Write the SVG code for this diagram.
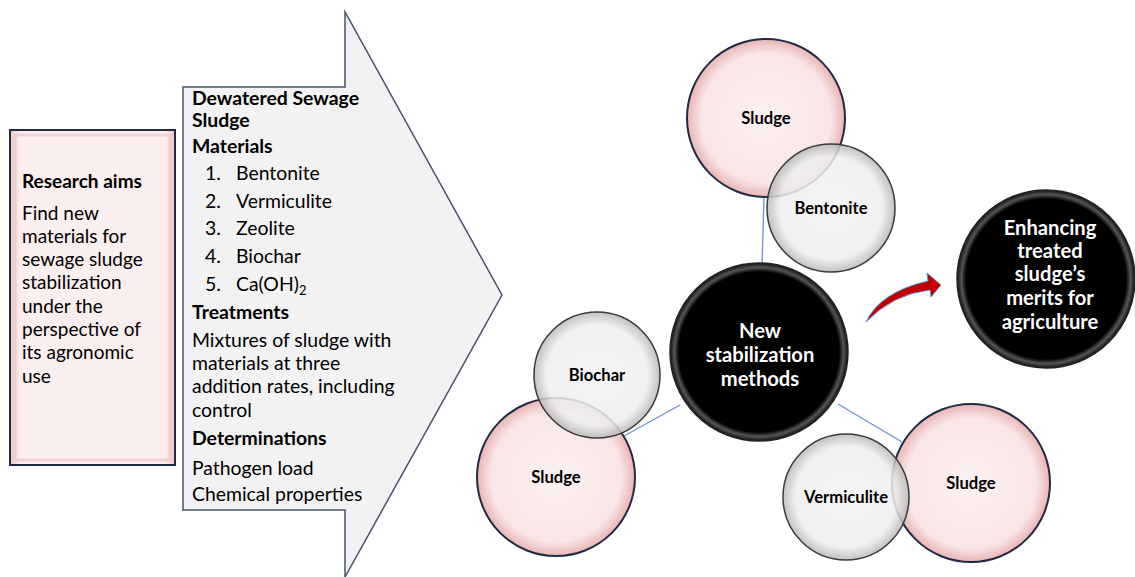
<svg xmlns="http://www.w3.org/2000/svg" width="1135" height="577" viewBox="0 0 1135 577">
<defs>
<radialGradient id="gPink" cx="50%" cy="50%" r="50%">
<stop offset="0" stop-color="#fcf1f1"/>
<stop offset="0.82" stop-color="#f9e6e6"/>
<stop offset="1" stop-color="#eab4b4"/>
</radialGradient>
<radialGradient id="gGray" cx="50%" cy="50%" r="50%">
<stop offset="0" stop-color="#f4f4f4"/>
<stop offset="0.8" stop-color="#eeeeee"/>
<stop offset="1" stop-color="#b8b8b8"/>
</radialGradient>
<radialGradient id="gBlack" cx="50%" cy="50%" r="50%">
<stop offset="0" stop-color="#000"/>
<stop offset="0.9" stop-color="#000"/>
<stop offset="0.95" stop-color="#555"/>
<stop offset="1" stop-color="#111"/>
</radialGradient>
<linearGradient id="gBox" x1="0" y1="0" x2="1" y2="0">
<stop offset="0" stop-color="#f2c4c4"/>
<stop offset="0.06" stop-color="#fbeeee"/>
<stop offset="0.94" stop-color="#fbeeee"/>
<stop offset="1" stop-color="#f2c4c4"/>
</linearGradient>
</defs>
<style>
.t{font-family:Lato,"Liberation Sans",sans-serif;font-size:19.4px;fill:#000}
.r{font-size:19px}
.b{font-weight:bold}
.c{font-family:Lato,"Liberation Sans",sans-serif;font-size:16.6px;font-weight:bold;fill:#000;text-anchor:middle}
.w{font-family:Lato,"Liberation Sans",sans-serif;font-size:20.2px;font-weight:bold;fill:#fff;text-anchor:middle}
.pink{fill:url(#gPink);stroke:#1f2a44;stroke-width:2}
.gray{fill:url(#gGray);fill-opacity:0.85;stroke:#3a3a3a;stroke-width:1.5}
.blk{fill:url(#gBlack);stroke:#222;stroke-width:1.5}
.con{stroke:#6f8fcf;stroke-width:1.3;fill:none}
</style>

<g id="connectors">
<line class="con" x1="764" y1="197" x2="762" y2="266"/>
<line class="con" x1="624" y1="436" x2="680" y2="405"/>
<line class="con" x1="838" y1="404" x2="902" y2="442"/>
</g>

<g id="research-aims">
<rect x="10" y="130" width="165" height="335" fill="url(#gBox)" stroke="#1f2a44" stroke-width="2"/>
<rect x="15" y="135" width="155" height="325" fill="none" stroke="#f0c8c8" stroke-width="3" opacity="0.7"/>
<text class="t r b" x="22" y="188">Research aims</text>
<text class="t r" x="22" y="220">Find new</text>
<text class="t r" x="22" y="243">materials for</text>
<text class="t r" x="22" y="266">sewage sludge</text>
<text class="t r" x="22" y="289">stabilization</text>
<text class="t r" x="22" y="313">under the</text>
<text class="t r" x="22" y="336">perspective of</text>
<text class="t r" x="22" y="359">its agronomic</text>
<text class="t r" x="22" y="383">use</text>
</g>

<g id="methods-arrow">
<path d="M183,87 L345,87 L345,12 L502,295 L345,577 L345,510 L183,510 Z" fill="#f2f2f2" stroke="#44546a" stroke-width="1.5"/>
<text class="t b" x="192" y="105">Dewatered Sewage</text>
<text class="t b" x="192" y="127">Sludge</text>
<text class="t b" x="192" y="153">Materials</text>
<text class="t" x="205" y="180">1.</text><text class="t" x="236" y="180">Bentonite</text>
<text class="t" x="205" y="208">2.</text><text class="t" x="236" y="208">Vermiculite</text>
<text class="t" x="205" y="235">3.</text><text class="t" x="236" y="235">Zeolite</text>
<text class="t" x="205" y="263">4.</text><text class="t" x="236" y="263">Biochar</text>
<text class="t" x="205" y="291">5.</text><text class="t" x="236" y="291">Ca(OH)<tspan font-size="13" dy="4">2</tspan></text>
<text class="t b" x="192" y="319">Treatments</text>
<text class="t" x="192" y="347">Mixtures of sludge with</text>
<text class="t" x="192" y="370">materials at three</text>
<text class="t" x="192" y="393">addition rates, including</text>
<text class="t" x="192" y="417">control</text>
<text class="t b" x="192" y="445">Determinations</text>
<text class="t" x="192" y="475">Pathogen load</text>
<text class="t" x="192" y="501">Chemical properties</text>
</g>

<g id="sludge-top">
<circle class="pink" cx="766" cy="118" r="79"/>
<text class="c" x="766" y="124">Sludge</text>
</g>
<g id="bentonite">
<circle class="gray" cx="831" cy="208" r="64"/>
<text class="c" x="831" y="214">Bentonite</text>
</g>

<g id="sludge-left">
<circle class="pink" cx="556" cy="477" r="79"/>
<text class="c" x="556" y="483">Sludge</text>
</g>
<g id="biochar">
<circle class="gray" cx="597" cy="375" r="63"/>
<text class="c" x="597" y="381">Biochar</text>
</g>

<g id="sludge-right">
<circle class="pink" cx="971" cy="483" r="79"/>
<text class="c" x="971" y="489">Sludge</text>
</g>
<g id="vermiculite">
<circle class="gray" cx="846" cy="497" r="63"/>
<text class="c" x="846" y="503">Vermiculite</text>
</g>

<g id="new-methods">
<circle class="blk" cx="759" cy="352" r="89"/>
<text class="w" x="760" y="338">New</text>
<text class="w" x="760" y="362">stabilization</text>
<text class="w" x="760" y="386">methods</text>
</g>

<g id="curved-arrow">
<path d="M866,322 Q880,292 928,281 L927,273 L941,285 L931,297 L930,290 Q893,294 866,322 Z" fill="#c00000" stroke="#5b8fd6" stroke-width="1"/>
</g>

<g id="enhancing">
<circle class="blk" cx="1046" cy="279" r="89"/>
<text class="w" x="1050" y="235">Enhancing</text>
<text class="w" x="1050" y="258">treated</text>
<text class="w" x="1050" y="281">sludge’s</text>
<text class="w" x="1050" y="305">merits for</text>
<text class="w" x="1050" y="329">agriculture</text>
</g>
</svg>
